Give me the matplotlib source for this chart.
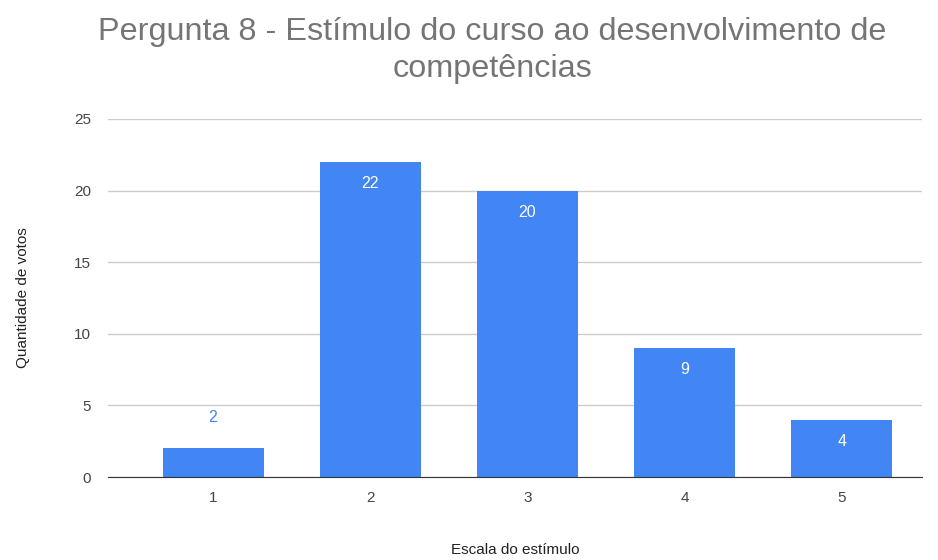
import matplotlib.pyplot as plt

plt.rcParams['font.family'] = ['Liberation Sans', 'DejaVu Sans']

# data
categories = ["1", "2", "3", "4", "5"]
votes = [2, 22, 20, 9, 4]
y_ticks = [0, 5, 10, 15, 20, 25]

BAR_COLOR = "#4285F4"

fig = plt.figure(figsize=(9.38, 5.6), dpi=100)
ax = fig.add_axes([0.115, 0.148, 0.868, 0.6395])

x = list(range(1, len(categories) + 1))
bars = ax.bar(x, votes, width=0.643, color=BAR_COLOR, zorder=3)

for xi, v in zip(x, votes):
    if v < 3:
        ax.annotate(str(v), (xi, v), xytext=(0, 17), textcoords="offset points",
                    ha="center", va="bottom", color=BAR_COLOR, fontsize=11.5)
    else:
        ax.annotate(str(v), (xi, v), xytext=(0, -10), textcoords="offset points",
                    ha="center", va="top", color="white", fontsize=11.5)

ax.set_xlim(0.331, 5.51)
ax.set_ylim(0, 25)
ax.set_xticks(x)
ax.set_xticklabels(categories)
ax.set_yticks(y_ticks)
ax.yaxis.grid(True, color="#cccccc", linewidth=1, zorder=0)
ax.tick_params(axis="both", length=0, labelsize=11, colors="#444444")
ax.tick_params(axis="x", pad=10)
ax.tick_params(axis="y", pad=12)
for side in ["top", "right", "left"]:
    ax.spines[side].set_visible(False)
ax.spines["bottom"].set_color("#333333")
ax.spines["bottom"].set_zorder(4)

ax.set_xlabel("Escala do estímulo", fontsize=11, color="#222222", labelpad=27)
ax.set_ylabel("Quantidade de votos", fontsize=11, color="#222222", labelpad=32)

fig.text(0.525, 0.91, "Pergunta 8 - Estímulo do curso ao desenvolvimento de\ncompetências",
         ha="center", va="center", fontsize=23.3, color="#757575", linespacing=1.32)

fig.savefig("out.png", dpi=100)
